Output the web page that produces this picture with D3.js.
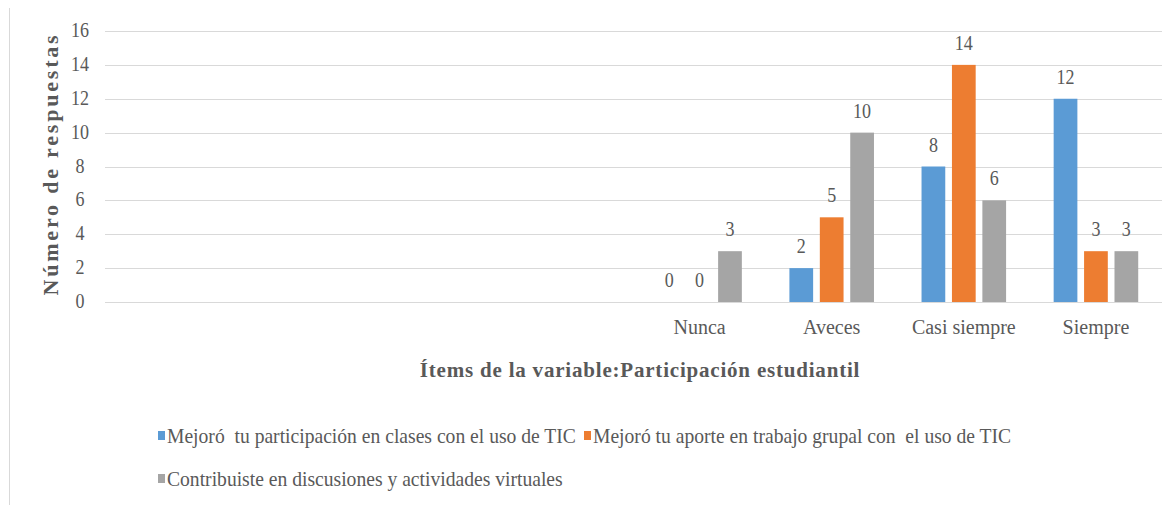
<!DOCTYPE html>
<html>
<head>
<meta charset="utf-8">
<script src="https://cdn.jsdelivr.net/npm/d3@7"></script>
<style>
  body { margin: 0; background: #fff; }
</style>
</head>
<body>
<div class="content"></div>
<script>
// Categories (the first four slots are empty in the original chart)
var categories = ["", "", "", "", "Nunca", "Aveces", "Casi siempre", "Siempre"];

// Series
var seriesNames = [
  "Mejoró  tu participación en clases con el uso de TIC",
  "Mejoró tu aporte en trabajo grupal con  el uso de TIC",
  "Contribuiste en discusiones y actividades virtuales"
];
var participacion = [null, null, null, null, 0, 2, 8, 12];
var aporte        = [null, null, null, null, 0, 5, 14, 3];
var discusiones   = [null, null, null, null, 3, 10, 6, 3];

var yTicks = [0, 2, 4, 6, 8, 10, 12, 14, 16];

var seriesColors = ["#5B9BD5", "#ED7D31", "#A5A5A5"];
var seriesValues = [participacion, aporte, discusiones];

var W = 1174, H = 505;
var margin = {top: 31, right: 12, bottom: 203, left: 105},
    width = W - margin.left - margin.right,
    height = H - margin.top - margin.bottom;

var serif = "'Liberation Serif', 'Times New Roman', serif";

var svg = d3.select(".content").append("svg")
    .attr("width", W)
    .attr("height", H)
    .attr("font-family", serif);

// outer frame line on the left
svg.append("line")
  .attr("x1", 9.5).attr("x2", 9.5)
  .attr("y1", 8).attr("y2", H)
  .style("stroke", "#d9d9d9");

var g = svg.append("g")
    .attr("transform", "translate(" + margin.left + "," + margin.top + ")");

var x0 = d3.scaleBand()
  .domain(d3.range(categories.length))
  .range([0, width])
  .paddingInner(0.36)
  .paddingOuter(0.18);

var x1 = d3.scaleBand()
  .domain(d3.range(seriesNames.length))
  .range([0, x0.bandwidth()])
  .paddingInner(0.22);

var y = d3.scaleLinear()
  .domain([0, 16])
  .range([height, 0]);

// every label goes through here: serif, grey
function label(parent, str, px, py, size, anchor, sx) {
  return parent.append("text")
    .attr("transform", "translate(" + px + "," + py + ") scale(" + (sx || 1) + ",1)")
    .attr("text-anchor", anchor || "middle")
    .attr("font-family", serif)
    .attr("font-size", size)
    .attr("fill", "#595959")
    .attr("xml:space", "preserve")
    .style("white-space", "pre")
    .text(str);
}

// gridlines
g.selectAll(".grid")
  .data(yTicks)
  .enter().append("line")
    .attr("x1", 0).attr("x2", width)
    .attr("y1", function(d) { return Math.round(y(d)) + 0.5; })
    .attr("y2", function(d) { return Math.round(y(d)) + 0.5; })
    .style("stroke", "#d9d9d9")
    .style("stroke-width", 1.2);

// y tick labels
yTicks.forEach(function(t) {
  label(g, t, -25, y(t) + 6, 20, "middle", 0.9);
});

// bars
var groups = g.selectAll(".cat")
  .data(categories)
  .enter().append("g")
    .attr("transform", function(d, i) { return "translate(" + x0(i) + ",0)"; });

seriesValues.forEach(function(vals, s) {
  groups.each(function(d, i) {
    var v = vals[i];
    if (v === null) return;
    var grp = d3.select(this);
    grp.append("rect")
      .attr("x", x1(s))
      .attr("width", x1.bandwidth())
      .attr("y", y(v))
      .attr("height", height - y(v))
      .style("fill", seriesColors[s]);
    label(grp, v, x1(s) + x1.bandwidth() / 2, y(v) - 15, 20, "middle", 0.9);
  });
});

// category labels
categories.forEach(function(c, i) {
  label(g, c, x0(i) + x0.bandwidth() / 2, height + 32, 20);
});

// axis titles
label(svg, "Ítems de la variable:Participación estudiantil", 640, 377, 21)
  .attr("font-weight", "bold")
  .style("letter-spacing", "0.8px");

svg.append("text")
  .attr("text-anchor", "middle")
  .attr("font-family", serif)
  .attr("font-size", 22)
  .attr("font-weight", "bold")
  .attr("fill", "#595959")
  .style("letter-spacing", "2.8px")
  .attr("transform", "translate(58,164) rotate(-90)")
  .text("Número de respuestas");

// legend
var legendPos = [[158, 437], [584, 437], [158, 480]];
seriesNames.forEach(function(name, s) {
  var lg = svg.append("g")
    .attr("transform", "translate(" + legendPos[s][0] + "," + legendPos[s][1] + ")");
  lg.append("rect")
    .attr("x", 0).attr("y", -6)
    .attr("width", 7).attr("height", 9)
    .style("fill", seriesColors[s]);
  label(lg, name, 9, 6, 20, "start", 0.98);
});
</script>
</body>
</html>
